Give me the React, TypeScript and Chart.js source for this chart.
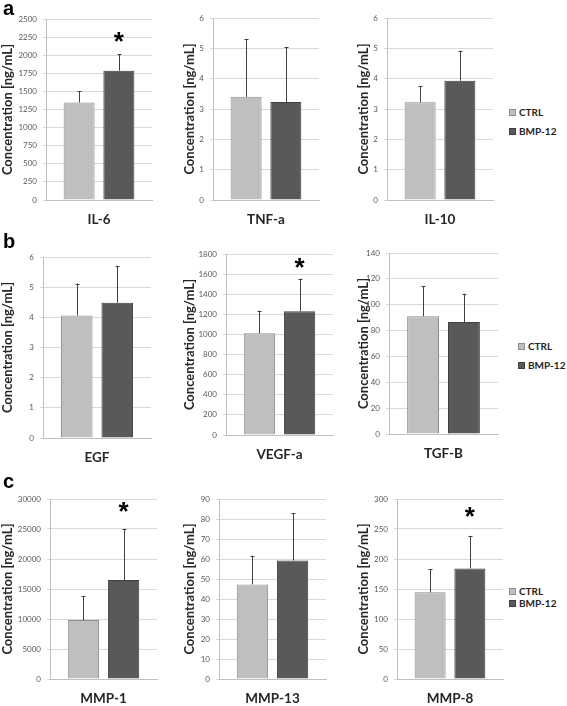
import React, { useEffect, useRef } from 'react';
import { Chart, registerables } from 'chart.js';

Chart.register(...registerables);

// ---- data ----
const categories = ['IL-6', 'TNF-a', 'IL-10', 'EGF', 'VEGF-a', 'TGF-B', 'MMP-1', 'MMP-13', 'MMP-8'];
const seriesLabels = ['CTRL', 'BMP-12'];
const ctrlMeans = [1347, 3.4, 3.22, 4.06, 1011, 91.0, 9830, 47.3, 144.5];
const ctrlSD = [153, 1.91, 0.53, 1.06, 226, 23.5, 3970, 14.3, 38.7];
const bmpMeans = [1785, 3.23, 3.93, 4.48, 1230, 86.6, 16495, 59.3, 184.3];
const bmpSD = [227, 1.81, 0.99, 1.22, 325, 21.9, 8525, 23.7, 54.3];
const yMax = [2500, 6, 6, 6, 1800, 140, 30000, 90, 300];
const yStep = [250, 1, 1, 1, 200, 20, 5000, 10, 50];
const starValues: (number | null)[] = [2250, null, null, null, 1710, null, 28600, null, 278];
const panelLetters = ['a', 'b', 'c'];
const yTitle = 'Concentration [ng/mL]';

// ---- layout (page pixels) ----
const canvasBoxes = [
  { l: 0, t: 0, w: 170, h: 232 },
  { l: 182, t: 0, w: 160, h: 232 },
  { l: 356, t: 0, w: 150, h: 232 },
  { l: 0, t: 232, w: 170, h: 236 },
  { l: 182, t: 232, w: 160, h: 236 },
  { l: 356, t: 232, w: 150, h: 236 },
  { l: 0, t: 470, w: 170, h: 236 },
  { l: 182, t: 470, w: 160, h: 236 },
  { l: 356, t: 470, w: 150, h: 236 },
];
const plotBoxes = [
  { l: 46, t: 19, r: 152, b: 200 },
  { l: 213, t: 18, r: 319, b: 200 },
  { l: 387, t: 18, r: 493, b: 200 },
  { l: 43, t: 257, r: 151, b: 438 },
  { l: 226, t: 254, r: 333, b: 435 },
  { l: 389, t: 253, r: 498, b: 434 },
  { l: 50, t: 499, r: 157, b: 679 },
  { l: 219, t: 499, r: 326, b: 679 },
  { l: 397, t: 499, r: 503, b: 679 },
];
const legendBoxes = [
  { x: 509, y1: 112, y2: 131 },
  { x: 518, y1: 346, y2: 365 },
  { x: 509, y1: 591, y2: 603 },
];
const letterBoxes = [
  { x: 3, y: -2 },
  { x: 3, y: 231 },
  { x: 3, y: 471 },
];

const FONT = 'Lato, "Noto Sans", sans-serif';
const CTRL_FILL = '#bfbfbf';
const CTRL_BORDER = '#8f8f8f';
const BMP_FILL = '#595959';
const BMP_BORDER = '#3f3f3f';

const errorBarPlugin = {
  id: 'errorBars',
  afterDatasetsDraw(chart: any, _args: any, opts: any) {
    const ctx = chart.ctx;
    const yScale = chart.scales.y;
    const sds: number[] = opts.sds || [];
    chart.data.datasets.forEach((ds: any, di: number) => {
      const meta = chart.getDatasetMeta(di);
      meta.data.forEach((bar: any, i: number) => {
        const v = ds.data[i];
        const yTop = yScale.getPixelForValue(v + sds[di]);
        const x = Math.round(bar.x) + 0.5;
        ctx.save();
        ctx.strokeStyle = '#404040';
        ctx.lineWidth = 1;
        ctx.beginPath();
        ctx.moveTo(x, bar.y);
        ctx.lineTo(x, yTop);
        ctx.moveTo(x - 2, Math.round(yTop) + 0.5);
        ctx.lineTo(x + 2, Math.round(yTop) + 0.5);
        ctx.stroke();
        ctx.restore();
      });
    });
  },
};

const starPlugin = {
  id: 'stars',
  afterDatasetsDraw(chart: any, _args: any, opts: any) {
    if (opts.value === null || opts.value === undefined) return;
    const ctx = chart.ctx;
    const meta = chart.getDatasetMeta(1);
    const bar: any = meta.data[0];
    const y = chart.scales.y.getPixelForValue(opts.value);
    ctx.save();
    ctx.font = 'bold 26px "Liberation Sans", Arial, sans-serif';
    ctx.fillStyle = '#000000';
    ctx.textAlign = 'center';
    ctx.textBaseline = 'alphabetic';
    const m = ctx.measureText('*');
    const off = (m.actualBoundingBoxAscent - m.actualBoundingBoxDescent) / 2;
    ctx.fillText('*', bar.x, y + off);
    ctx.restore();
  },
};

function Panel({ idx }: { idx: number }) {
  const ref = useRef<HTMLCanvasElement>(null);
  useEffect(() => {
    const cb = canvasBoxes[idx];
    const pb = plotBoxes[idx];
    const chart = new Chart(ref.current as HTMLCanvasElement, {
      type: 'bar',
      data: {
        labels: [categories[idx]],
        datasets: [
          {
            label: seriesLabels[0],
            data: [ctrlMeans[idx]],
            backgroundColor: CTRL_FILL,
            borderColor: CTRL_BORDER,
            borderWidth: 1,
            categoryPercentage: 0.75,
            barPercentage: 0.78,
          },
          {
            label: seriesLabels[1],
            data: [bmpMeans[idx]],
            backgroundColor: BMP_FILL,
            borderColor: BMP_BORDER,
            borderWidth: 1,
            categoryPercentage: 0.75,
            barPercentage: 0.78,
          },
        ],
      },
      options: {
        responsive: false,
        animation: false,
        layout: {
          padding: {
            left: 0,
            top: pb.t - cb.t,
            right: cb.l + cb.w - pb.r,
            bottom: 0,
          },
        },
        plugins: {
          legend: { display: false },
          tooltip: { enabled: false },
          errorBars: { sds: [ctrlSD[idx], bmpSD[idx]] },
          stars: { value: starValues[idx] },
        } as any,
        scales: {
          x: {
            grid: { display: false, drawTicks: false },
            border: { display: true, color: '#bfbfbf' },
            ticks: {
              font: { family: FONT, size: 13.5, weight: 'bold' },
              color: '#262626',
              padding: 12,
            },
            afterFit: (s: any) => {
              s.height = cb.t + cb.h - pb.b;
            },
          },
          y: {
            min: 0,
            max: yMax[idx],
            ticks: {
              stepSize: yStep[idx],
              font: { family: FONT, size: 8 },
              color: '#595959',
              padding: 6,
              callback: (v: any) => String(v),
            },
            grid: { color: '#d9d9d9', tickLength: 3 },
            border: { display: true, color: '#bfbfbf' },
            title: {
              display: true,
              text: yTitle,
              font: { family: FONT, size: 13, weight: 'bold' },
              color: '#262626',
              padding: { top: 0, bottom: 0 },
            },
            afterFit: (s: any) => {
              s.width = pb.l - cb.l;
            },
          },
        },
      },
      plugins: [errorBarPlugin, starPlugin],
    });
    return () => chart.destroy();
  }, [idx]);
  const cb = canvasBoxes[idx];
  return (
    <canvas
      ref={ref}
      width={cb.w}
      height={cb.h}
      style={{ position: 'absolute', left: cb.l, top: cb.t, width: cb.w, height: cb.h }}
    />
  );
}

function Legend({ row }: { row: number }) {
  const lb = legendBoxes[row];
  const items = [
    { label: seriesLabels[0], fill: CTRL_FILL, border: CTRL_BORDER, y: lb.y1 },
    { label: seriesLabels[1], fill: BMP_FILL, border: BMP_BORDER, y: lb.y2 },
  ];
  return (
    <>
      {items.map((it) => (
        <div
          key={it.label}
          style={{
            position: 'absolute',
            left: lb.x,
            top: it.y - 7,
            height: 14,
            display: 'flex',
            alignItems: 'center',
            fontFamily: FONT,
            fontWeight: 'bold',
            fontSize: 10,
            color: '#262626',
            whiteSpace: 'nowrap',
          }}
        >
          <span
            style={{
              display: 'inline-block',
              width: 5,
              height: 5,
              background: it.fill,
              border: `1px solid ${it.border}`,
              marginRight: 3,
            }}
          />
          {it.label}
        </div>
      ))}
    </>
  );
}

export default function App() {
  return (
    <div
      style={{
        position: 'fixed',
        left: 0,
        top: 0,
        width: 567,
        height: 706,
        background: '#ffffff',
        overflow: 'hidden',
      }}
    >
      {categories.map((_, i) => (
        <Panel key={i} idx={i} />
      ))}
      {panelLetters.map((l, r) => (
        <div
          key={l}
          style={{
            position: 'absolute',
            left: letterBoxes[r].x,
            top: letterBoxes[r].y,
            fontFamily: '"Liberation Sans", Arial, sans-serif',
            fontWeight: 'bold',
            fontSize: 20,
            lineHeight: '20px',
            color: '#000',
          }}
        >
          {l}
        </div>
      ))}
      {[0, 1, 2].map((r) => (
        <Legend key={r} row={r} />
      ))}
    </div>
  );
}
